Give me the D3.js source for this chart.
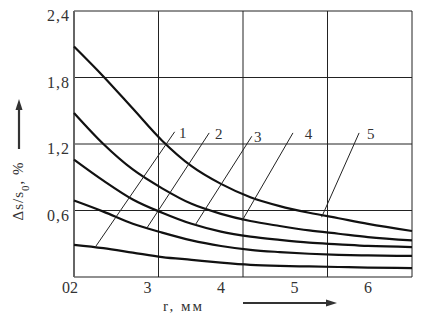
<!DOCTYPE html>
<html>
<head>
<meta charset="utf-8">
<script src="https://cdn.jsdelivr.net/npm/d3@7"></script>
<style>
  body { margin: 0; background: #fff; }
  svg text { font-family: "Liberation Serif", "Times New Roman", serif; fill: #333; }
</style>
</head>
<body>
<div id="viz_container"></div>
<script>
// r, mm values shared by all curves
const rValues = [2.0, 2.4, 2.8, 3.2, 3.6, 4.0, 4.4, 4.8, 5.2, 5.6, 6.0, 6.6];
// Δs/s0, % for curves 1..5 (bottom to top)
const curve1 = [0.29, 0.26, 0.22, 0.18, 0.155, 0.13, 0.11, 0.10, 0.095, 0.09, 0.085, 0.08];
const curve2 = [0.69, 0.59, 0.48, 0.40, 0.33, 0.28, 0.245, 0.225, 0.21, 0.20, 0.195, 0.19];
const curve3 = [1.06, 0.87, 0.70, 0.58, 0.48, 0.41, 0.365, 0.335, 0.31, 0.295, 0.28, 0.27];
const curve4 = [1.48, 1.20, 0.97, 0.80, 0.66, 0.57, 0.505, 0.46, 0.42, 0.39, 0.36, 0.33];
const curve5 = [2.08, 1.81, 1.52, 1.23, 1.00, 0.84, 0.72, 0.64, 0.58, 0.53, 0.48, 0.415];
const curveNames = ["1", "2", "3", "4", "5"];

// leader lines: from a point on the curve up to the label
const leaderFromR = [2.30, 2.99, 3.65, 4.29, 5.37];
const leaderFromV = [0.28, 0.44, 0.47, 0.51, 0.54];
const leaderToR = [3.37, 3.84, 4.42, 4.98, 5.88];
const leaderToV = [1.31, 1.30, 1.27, 1.30, 1.30];
const labelR = [3.48, 3.97, 4.50, 5.19, 6.04];

// axes
const xTicks = [3, 4, 5, 6];
const xGrid = [3.15, 4.3, 5.45, 6.6];
const yTicks = [0.6, 1.2, 1.8, 2.4];
const yTickLabels = ["0,6", "1,2", "1,8", "2,4"];

const width = 423, height = 318;
const plotLeft = 74, plotRight = 412, plotTop = 11, plotBottom = 277;

const svg = d3.select("#viz_container")
  .append("svg")
  .attr("width", width)
  .attr("height", height);

const x = d3.scaleLinear().domain([2, 6.6]).range([plotLeft, plotRight]);
const y = d3.scaleLinear().domain([0, 2.4]).range([plotBottom, plotTop]);

// grid
svg.append("g")
  .selectAll("line")
  .data(yTicks)
  .join("line")
  .attr("x1", plotLeft).attr("x2", plotRight)
  .attr("y1", d => y(d)).attr("y2", d => y(d))
  .attr("stroke", "#222").attr("stroke-width", 1);
svg.append("g")
  .selectAll("line")
  .data(xGrid)
  .join("line")
  .attr("x1", d => x(d)).attr("x2", d => x(d))
  .attr("y1", plotTop).attr("y2", plotBottom)
  .attr("stroke", "#222").attr("stroke-width", 1);
// bottom and left axis
svg.append("line")
  .attr("x1", plotLeft).attr("x2", plotRight)
  .attr("y1", plotBottom).attr("y2", plotBottom)
  .attr("stroke", "#222").attr("stroke-width", 1.2);
svg.append("line")
  .attr("x1", plotLeft).attr("x2", plotLeft)
  .attr("y1", plotTop).attr("y2", plotBottom)
  .attr("stroke", "#666").attr("stroke-width", 2);

// tick labels
svg.append("g")
  .selectAll("text")
  .data(yTicks)
  .join("text")
  .attr("x", plotLeft - 4)
  .attr("y", d => y(d) + 10)
  .attr("text-anchor", "end")
  .style("font-size", "16px")
  .style("letter-spacing", "1px")
  .text((d, i) => yTickLabels[i]);
svg.append("text")
  .attr("x", plotLeft - 4).attr("y", 293)
  .attr("text-anchor", "end")
  .style("font-size", "16px")
  .text("0");
svg.append("g")
  .selectAll("text")
  .data([2].concat(xTicks))
  .join("text")
  .attr("x", d => d === 2 ? plotLeft - 4 : x(d))
  .attr("y", 293)
  .attr("text-anchor", d => d === 2 ? "start" : "middle")
  .style("font-size", "16px")
  .text(d => d);

// curves
const curves = [curve1, curve2, curve3, curve4, curve5];
const line = d3.line()
  .x((d, i) => x(rValues[i]))
  .y(d => y(d))
  .curve(d3.curveMonotoneX);
svg.append("g")
  .selectAll("path")
  .data(curves)
  .join("path")
  .attr("d", line)
  .attr("fill", "none")
  .attr("stroke", "#111")
  .attr("stroke-width", 2.2);

// leaders and curve numbers
svg.append("g")
  .selectAll("line")
  .data(curveNames)
  .join("line")
  .attr("x1", (d, i) => x(leaderFromR[i]))
  .attr("y1", (d, i) => y(leaderFromV[i]))
  .attr("x2", (d, i) => x(leaderToR[i]))
  .attr("y2", (d, i) => y(leaderToV[i]))
  .attr("stroke", "#222")
  .attr("stroke-width", 1);
svg.append("g")
  .selectAll("text")
  .data(curveNames)
  .join("text")
  .attr("x", (d, i) => x(labelR[i]))
  .attr("y", (d, i) => y(leaderToV[i]) + 6)
  .attr("text-anchor", "middle")
  .style("font-size", "15px")
  .text(d => d);

// y axis title + arrow
const yt = svg.append("text")
  .attr("transform", "translate(23,191) rotate(-90)")
  .attr("text-anchor", "middle")
  .style("font-size", "15px")
  .style("letter-spacing", "1px");
yt.append("tspan").text("Δs/s");
yt.append("tspan").attr("baseline-shift", "sub").style("font-size", "11px").text("0");
yt.append("tspan").text(", %");
svg.append("line")
  .attr("x1", 19).attr("x2", 19)
  .attr("y1", 149).attr("y2", 108)
  .attr("stroke", "#333").attr("stroke-width", 2.2);
svg.append("path")
  .attr("d", "M19,99 L15.5,110 L22.5,110 Z")
  .attr("fill", "#333");

// x axis title + arrow
svg.append("text")
  .attr("x", 163).attr("y", 311)
  .style("font-size", "15px")
  .style("letter-spacing", "2px")
  .text("r, мм");
svg.append("line")
  .attr("x1", 243).attr("x2", 328)
  .attr("y1", 303).attr("y2", 303)
  .attr("stroke", "#333").attr("stroke-width", 2);
svg.append("path")
  .attr("d", "M337,303 L326,299.5 L326,306.5 Z")
  .attr("fill", "#333");
</script>
</body>
</html>
